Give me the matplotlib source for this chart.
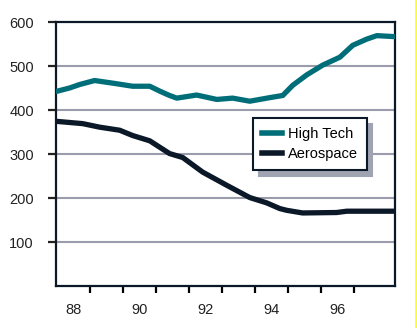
import matplotlib
matplotlib.use("Agg")
import matplotlib.pyplot as plt
from matplotlib.lines import Line2D

plt.rcParams['font.family'] = ['Liberation Sans', 'DejaVu Sans']

# years (fractional) and values
high_tech_x = [88.03, 88.39, 88.70, 89.15, 89.79, 90.30, 90.82, 91.12, 91.42, 91.64,
               92.24, 92.85, 93.33, 93.85, 94.45, 94.85, 95.15, 95.58, 96.06, 96.58,
               96.97, 97.39, 97.70, 98.18]
high_tech = [443, 450, 458, 467, 460, 454, 454, 443, 433, 427,
             434, 424, 427, 420, 428, 433, 456, 480, 502, 520,
             547, 561, 569, 567]

aero_x = [88.03, 88.79, 89.30, 89.91, 90.30, 90.82, 91.42, 91.82, 92.42, 93.15,
          93.85, 94.36, 94.76, 94.97, 95.45, 96.48, 96.79, 97.48, 98.15]
aerospace = [374, 369, 361, 354, 342, 330, 301, 292, 259, 229,
             201, 189, 176, 172, 166, 167, 170, 170, 170]

year_labels = ["88", "90", "92", "94", "96"]
label_pos = [88.5, 90.5, 92.5, 94.5, 96.5]
year_ticks = [89, 90, 91, 92, 93, 94, 95, 96, 97]
y_ticks = [100, 200, 300, 400, 500, 600]

teal = "#006e78"
navy = "#0b1828"

fig = plt.figure(figsize=(4.17, 3.28), dpi=100)
ax = fig.add_axes([56/417, 1-286/328, 339/417, 264/328])

for v in y_ticks[:-1]:
    ax.axhline(v, color="#9a9cab", lw=1.5, zorder=1)

ax.plot(high_tech_x, high_tech, color=teal, lw=3.8, label="High Tech", zorder=3,
        solid_joinstyle='round')
ax.plot(aero_x, aerospace, color=navy, lw=3.8, label="Aerospace", zorder=3,
        solid_joinstyle='round')

ax.set_xlim(87.98, 98.25)
ax.set_ylim(0, 600)
ax.set_yticks(y_ticks)
ax.set_yticklabels([str(v) for v in y_ticks])
ax.set_xticks(label_pos)
ax.set_xticklabels(year_labels)
ax.set_xticks(year_ticks, minor=True)

ax.tick_params(axis='y', direction='out', length=6, width=1.6, pad=10,
               labelsize=10.5, colors="#222222")
ax.tick_params(axis='x', which='major', length=0, pad=12, labelsize=10.5,
               colors="#222222")
ax.tick_params(axis='x', which='minor', direction='out', length=5, width=1.6)
for s in ax.spines.values():
    s.set_linewidth(1.6)
    s.set_color(navy)

leg = ax.legend(loc='upper left', bbox_to_anchor=(253/417, 1-118/328),
                bbox_transform=fig.transFigure, borderaxespad=0,
                fontsize=10.5, handlelength=1.4, handletextpad=0.4,
                borderpad=0.6, labelspacing=0.45, fancybox=False,
                shadow={'color': '#a0a3b2', 'alpha': 1.0, 'ox': 4, 'oy': -4})
leg.get_frame().set_edgecolor(navy)
leg.get_frame().set_linewidth(1.5)
leg.get_frame().set_alpha(1)
for line in leg.get_lines():
    line.set_linewidth(4)

fig.add_artist(Line2D([415.5/417, 415.5/417], [0, 1], color="#ffff00", lw=1.2,
                      transform=fig.transFigure))

fig.savefig("out.png", dpi=100)
